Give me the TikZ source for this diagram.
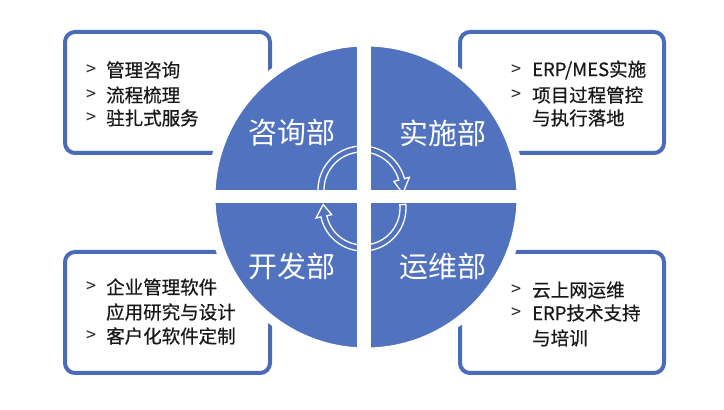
\documentclass[tikz,border=0pt]{standalone}
\usepackage{fontspec}
\setmainfont{Noto Sans CJK SC}
\newfontfamily\itemfont[FakeBold=0.6]{Noto Sans CJK SC}
\begin{document}
\begin{tikzpicture}[x=1pt,y=1pt,
  box/.style={draw=boxblue,line width=4pt,rounded corners=10pt,fill=white},
  item/.style={anchor=west,inner sep=0pt,font=\itemfont\fontsize{18.5}{20}\selectfont,text=black!90},
  chev/.style={anchor=west,inner sep=0pt,font=\fontsize{18}{18}\selectfont,text=black!85},
  dept/.style={inner sep=0pt,font=\fontsize{29}{32}\selectfont,text=white},
  arr/.style={draw=white,line width=1.3pt,line join=miter}]
\definecolor{boxblue}{HTML}{4A6CB8}
\definecolor{qblue}{HTML}{5172BE}
\useasboundingbox (0,0) rectangle (724,410);
\fill[white] (0,0) rectangle (724,410);
% boxes
\draw[box] (65,257) rectangle (270,378);
\draw[box] (460,257) rectangle (664,378);
\draw[box] (65,37) rectangle (270,158);
\draw[box] (460,37) rectangle (664,158);
% circle
\coordinate (O) at (366,213);
\fill[qblue,draw=white,line width=9pt] (O) circle (155);
\fill[white] (357,50) rectangle (371,376);
\fill[white] (200,207) rectangle (540,220);
% arrows
\coordinate (C1) at (362,220);
\coordinate (C2) at (363,202);
\draw[arr] ([shift={(190:44)}]C1) arc[start angle=190,end angle=15,radius=44]
  -- ([shift={(15:49)}]C1) -- ([shift={(-5:41)}]C1) -- ([shift={(15:33)}]C1)
  -- ([shift={(15:38)}]C1) arc[start angle=15,end angle=190,radius=38] -- cycle;
\draw[arr] ([shift={(5:43)}]C2) arc[start angle=5,end angle=-168,radius=43]
  -- ([shift={(-168:48)}]C2) -- ([shift={(175:40)}]C2) -- ([shift={(-168:32)}]C2)
  -- ([shift={(-168:37)}]C2) arc[start angle=-168,end angle=5,radius=37] -- cycle;
% department labels
\node[dept] (d1) at (292,277) {咨询部};
\node[dept] (d2) at (443,277) {实施部};
\node[dept] (d3) at (292,144) {开发部};
\node[dept] (d4) at (443,144) {运维部};
% TL
\node[chev] (c11) at (86,340) {>};
\node[item] (t11) at (106,340) {管理咨询};
\node[chev] (c12) at (86,315) {>};
\node[item] (t12) at (106,315) {流程梳理};
\node[chev] (c13) at (86,292) {>};
\node[item] (t13) at (106,292) {驻扎式服务};
% TR
\node[chev] (c21) at (511,340) {>};
\node[item] (t21) at (532,340) {ERP/MES实施};
\node[chev] (c22) at (511,315) {>};
\node[item] (t22) at (532,315) {项目过程管控};
\node[item] (t23) at (532,292) {与执行落地};
% BL
\node[chev] (c31) at (86,123) {>};
\node[item] (t31) at (106,123) {企业管理软件};
\node[item] (t32) at (106,98) {应用研究与设计};
\node[chev] (c33) at (86,74) {>};
\node[item] (t33) at (106,74) {客户化软件定制};
% BR
\node[chev] (c41) at (511,120) {>};
\node[item] (t41) at (532,120) {云上网运维};
\node[chev] (c42) at (511,97) {>};
\node[item] (t42) at (532,97) {ERP技术支持};
\node[item] (t43) at (532,72) {与培训};
\end{tikzpicture}
\end{document}
